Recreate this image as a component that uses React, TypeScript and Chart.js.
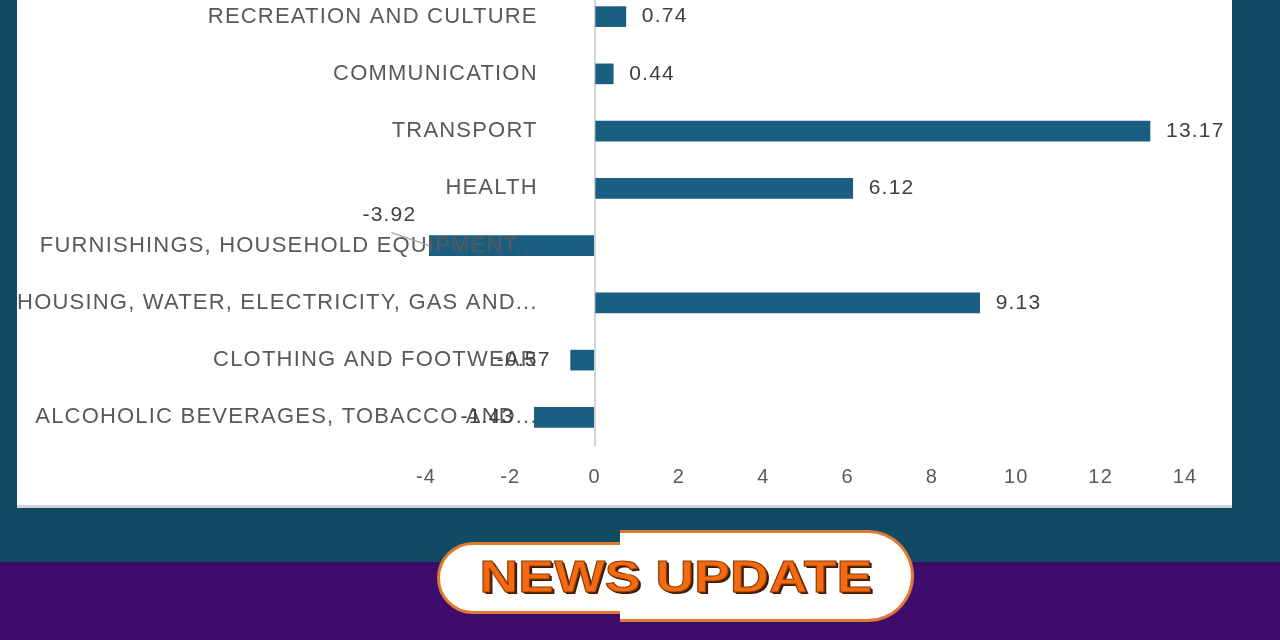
import { useEffect, useRef } from "react";
import { Chart, registerables } from "chart.js";

Chart.register(...registerables);

// categories, top to bottom as they appear in the picture
const categories = [
  "RECREATION AND CULTURE",
  "COMMUNICATION",
  "TRANSPORT",
  "HEALTH",
  "FURNISHINGS, HOUSEHOLD EQUIPMENT...",
  "HOUSING, WATER, ELECTRICITY, GAS AND...",
  "CLOTHING AND FOOTWEAR",
  "ALCOHOLIC BEVERAGES, TOBACCO AND...",
];

const changes = [0.74, 0.44, 13.17, 6.12, -3.92, 9.13, -0.57, -1.43];

const X_MIN = -4;
const X_MAX = 14;
const X_STEP = 2;
// category labels sit a little left of the zero line
const LABEL_AT = -1.35;

const BAR = "#1a5f82";
const TEXT = "#595959";
const FONT = "'Liberation Sans', Arial, sans-serif";

// the source text is a bit wider than Arial, so space it out
const spacing = {
  id: "spacing",
  beforeUpdate(chart: Chart) {
    (chart.ctx as any).letterSpacing = "1.2px";
  },
  beforeDraw(chart: Chart) {
    (chart.ctx as any).letterSpacing = "1.2px";
  },
};

// value labels: right of positive bars, left of negative ones,
// lifted above with a leader line when they'd run off the plot
const valueLabels = {
  id: "valueLabels",
  afterDraw(chart: Chart) {
    const { ctx, chartArea } = chart;
    const meta = chart.getDatasetMeta(0);
    ctx.save();
    ctx.font = `21px ${FONT}`;
    ctx.fillStyle = "#404040";
    ctx.textBaseline = "middle";
    meta.data.forEach((bar: any, i: number) => {
      const v = changes[i];
      const txt = v.toFixed(2);
      if (v >= 0) {
        ctx.textAlign = "left";
        ctx.fillText(txt, bar.x + 16, bar.y);
        return;
      }
      const w = ctx.measureText(txt).width;
      if (bar.x - 20 - w > chartArea.left) {
        ctx.textAlign = "right";
        ctx.fillText(txt, bar.x - 20, bar.y);
      } else {
        ctx.textAlign = "center";
        ctx.fillText(txt, bar.x - 40, bar.y - 30);
        ctx.strokeStyle = "#a6a6a6";
        ctx.lineWidth = 1.5;
        ctx.beginPath();
        ctx.moveTo(bar.x - 38, bar.y - 13);
        ctx.lineTo(bar.x, bar.y);
        ctx.stroke();
      }
    });
    ctx.restore();
  },
};

function BarChart() {
  const canvasRef = useRef<HTMLCanvasElement>(null);

  useEffect(() => {
    if (!canvasRef.current) return;
    const chart = new Chart(canvasRef.current, {
      type: "bar",
      data: {
        labels: categories,
        datasets: [
          {
            data: changes,
            backgroundColor: BAR,
            barThickness: 20,
          },
        ],
      },
      options: {
        indexAxis: "y",
        animation: false,
        responsive: true,
        maintainAspectRatio: false,
        layout: { padding: { left: 409, right: 47, top: 28, bottom: 12 } },
        plugins: {
          legend: { display: false },
          tooltip: { enabled: false },
        },
        scales: {
          x: {
            min: X_MIN,
            max: X_MAX,
            grid: {
              drawTicks: false,
              lineWidth: 2,
              color: (c: any) => (c.tick && c.tick.value === 0 ? "#d4d4d4" : "transparent"),
            },
            border: { display: false },
            ticks: {
              stepSize: X_STEP,
              padding: 19,
              color: TEXT,
              font: { family: FONT, size: 20 },
            },
          },
          y: {
            position: { x: LABEL_AT },
            grid: { display: false, drawTicks: false },
            border: { display: false },
            ticks: {
              autoSkip: false,
              padding: 0,
              z: 1,
              color: TEXT,
              font: { family: FONT, size: 22 },
            },
          },
        },
      },
      plugins: [spacing, valueLabels],
    });
    return () => chart.destroy();
  }, []);

  return <canvas ref={canvasRef} />;
}

export default function App() {
  return (
    <div
      style={{
        position: "fixed",
        left: 0,
        top: 0,
        width: 1280,
        height: 640,
        background: "#114a63",
        overflow: "hidden",
      }}
    >
      <div
        style={{
          position: "absolute",
          left: 0,
          top: 562,
          width: 1280,
          height: 78,
          background: "#3d0c6c",
        }}
      />
      <div
        style={{
          position: "absolute",
          left: 17,
          top: 0,
          width: 1215,
          height: 505,
          background: "#ffffff",
          borderBottom: "3px solid #cdd5db",
          overflow: "hidden",
        }}
      >
        <div style={{ position: "absolute", left: 0, top: -40, width: 1215, height: 560 }}>
          <BarChart />
        </div>
      </div>
      {/* badge */}
      <div
        style={{
          position: "absolute",
          left: 437,
          top: 542,
          width: 300,
          height: 66,
          borderRadius: 36,
          background: "#fff",
          border: "3px solid #df7a33",
        }}
      />
      <div
        style={{
          position: "absolute",
          left: 620,
          top: 530,
          width: 291,
          height: 86,
          borderRadius: "0 46px 46px 0",
          background: "#fff",
          border: "3px solid #df7a33",
          borderLeft: "none",
        }}
      />
      <div
        style={{
          position: "absolute",
          left: 437,
          top: 545,
          width: 477,
          height: 64,
          display: "flex",
          alignItems: "center",
          justifyContent: "center",
        }}
      >
        <span
          style={{
            display: "inline-block",
            transform: "scaleX(1.22)",
            fontFamily: "'Liberation Sans', Arial, sans-serif",
            fontWeight: 700,
            fontSize: 44,
            color: "#f56a0e",
            WebkitTextStroke: "1px #8a3a06",
            textShadow: "2px 2px 0 #3b1c0a, 1px 1px 0 #3b1c0a",
          }}
        >
          NEWS UPDATE
        </span>
      </div>
    </div>
  );
}
